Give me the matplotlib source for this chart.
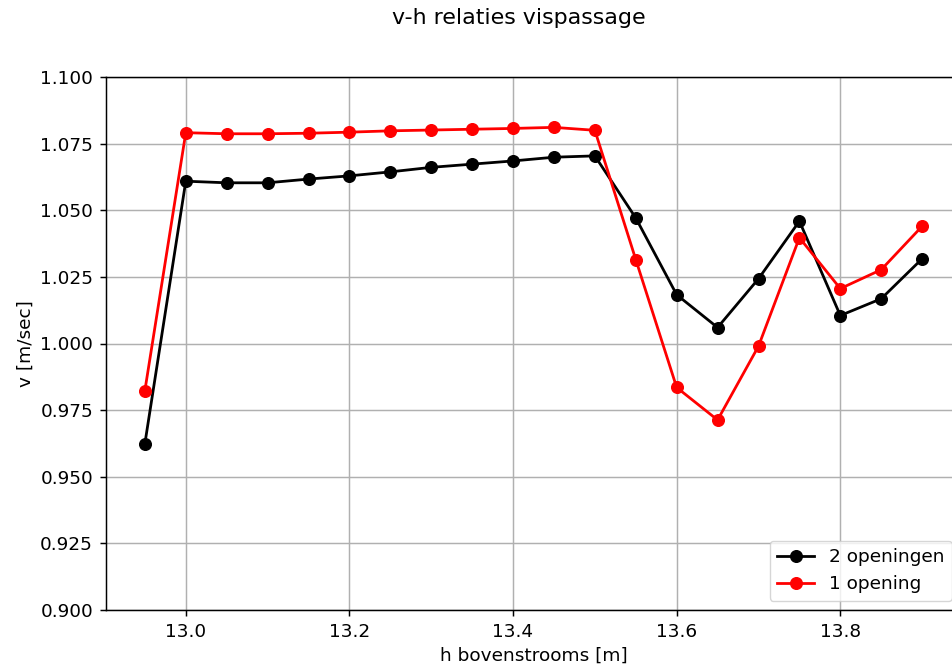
import matplotlib
matplotlib.use('Agg')
import matplotlib.pyplot as plt

# h bovenstrooms [m]
h = [12.95, 13.00, 13.05, 13.10, 13.15, 13.20, 13.25, 13.30, 13.35, 13.40,
     13.45, 13.50, 13.55, 13.60, 13.65, 13.70, 13.75, 13.80, 13.85, 13.90]

# v [m/sec] - 2 openingen
v_2 = [0.9624, 1.0609, 1.0603, 1.0603, 1.0617, 1.0629, 1.0644, 1.0661, 1.0673, 1.0685,
       1.0699, 1.0704, 1.0471, 1.0183, 1.0060, 1.0243, 1.0459, 1.0105, 1.0168, 1.0318]

# v [m/sec] - 1 opening
v_1 = [0.9823, 1.0791, 1.0787, 1.0787, 1.0789, 1.0793, 1.0798, 1.0801, 1.0804, 1.0807,
       1.0811, 1.0800, 1.0315, 0.9835, 0.9713, 0.9990, 1.0397, 1.0206, 1.0277, 1.0440]

# the reference looks like a default figure saved at ~1.33x the usual dpi
s = 1.33
plt.rcParams.update({
    'font.size': 10 * s,
    'axes.linewidth': 0.8 * s,
    'grid.linewidth': 0.8 * s,
    'xtick.major.width': 0.8 * s,
    'ytick.major.width': 0.8 * s,
    'xtick.major.size': 3.5 * s,
    'ytick.major.size': 3.5 * s,
    'xtick.major.pad': 3.5 * s,
    'ytick.major.pad': 3.5 * s,
    'legend.fontsize': 10 * s,
})

fig = plt.figure(figsize=(9.52, 6.7), dpi=100)
# axes runs past the right edge of the image, like in the reference crop
ax = fig.add_axes([106 / 952, (670 - 610) / 670, 855 / 952, 533 / 670])

ax.plot(h, v_2, 'o-', color='black', linewidth=1.5 * s, markersize=6.3 * s, label='2 openingen')
ax.plot(h, v_1, 'o-', color='red', linewidth=1.5 * s, markersize=6.3 * s, label='1 opening')

ax.set_ylim(0.9, 1.1)
ax.set_xlabel('h bovenstrooms [m]')
ax.set_ylabel('v [m/sec]')
ax.yaxis.set_major_formatter(matplotlib.ticker.FormatStrFormatter('%.3f'))
ax.grid(True)
ax.legend(loc='lower right')

fig.text(519 / 952, 1 - 18 / 670, 'v-h relaties vispassage', fontsize=12 * s,
         ha='center', va='center')

fig.savefig('out.png', dpi=100)
